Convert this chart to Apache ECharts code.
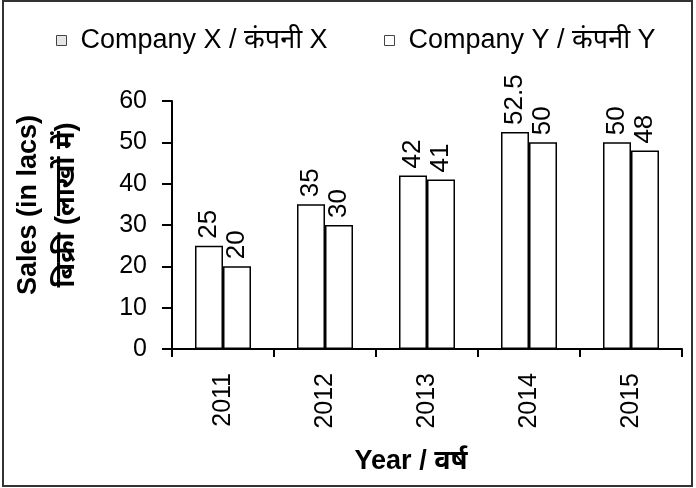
<!DOCTYPE html>
<html>
<head>
<meta charset="utf-8">
<script src="https://cdn.jsdelivr.net/npm/echarts@6/dist/echarts.min.js"></script>
<style>
  html, body { margin: 0; padding: 0; background: #fff; }
  #chart { width: 696px; height: 488px; }
</style>
</head>
<body>
<div id="chart"></div>
<script>
// Annual sales of two companies (in lacs)
const years = ['2011', '2012', '2013', '2014', '2015'];
const companyX = [25, 35, 42, 52.5, 50];
const companyY = [20, 30, 41, 50, 48];
const seriesNames = ['Company X / कंपनी X', 'Company Y / कंपनी Y'];
const yTicks = { min: 0, max: 60, interval: 10 };

const FONT = '"Liberation Sans", Arial, "Noto Sans", sans-serif';

const chart = echarts.init(document.getElementById('chart'), null, { renderer: 'canvas' });

const barLabel = {
  show: true,
  position: 'top',
  rotate: 90,
  align: 'left',
  verticalAlign: 'middle',
  distance: 7,
  color: '#000',
  fontSize: 26,
  fontFamily: FONT
};

// one legend block per series so each entry sits at its own spot
const legendBase = {
  top: 22,
  itemWidth: 10,
  itemHeight: 10,
  textStyle: { fontSize: 27, color: '#000', fontFamily: FONT, padding: [0, 0, 0, 9] }
};

chart.setOption({
  backgroundColor: '#fff',
  animation: false,
  textStyle: { fontFamily: FONT, color: '#000' },
  graphic: [{
    type: 'rect',
    shape: { x: 3, y: 1, width: 689, height: 485 },
    style: { fill: 'none', stroke: '#333', lineWidth: 2 },
    z: 100
  }],
  legend: [
    Object.assign({}, legendBase, {
      left: 51,
      data: [{ name: seriesNames[0], icon: 'rect', itemStyle: { color: '#e6e6e6', borderColor: '#444', borderWidth: 1 } }]
    }),
    Object.assign({}, legendBase, {
      left: 379,
      data: [{ name: seriesNames[1], icon: 'rect', itemStyle: { color: '#fff', borderColor: '#444', borderWidth: 1 } }]
    })
  ],
  grid: { left: 172, right: 14, top: 101, bottom: 139, containLabel: false },
  xAxis: {
    type: 'category',
    data: years,
    name: 'Year / वर्ष',
    nameLocation: 'middle',
    nameGap: 99,
    nameTextStyle: { fontSize: 27, fontWeight: 'bold', color: '#000', fontFamily: FONT, padding: [0, 32, 0, 0] },
    axisLine: { show: true, lineStyle: { color: '#000', width: 2 } },
    axisTick: { show: true, alignWithLabel: false, length: 8, lineStyle: { color: '#000', width: 2 } },
    axisLabel: { rotate: 90, margin: 24, fontSize: 25, color: '#000', fontFamily: FONT, interval: 0 },
    splitLine: { show: false }
  },
  yAxis: {
    type: 'value',
    min: yTicks.min,
    max: yTicks.max,
    interval: yTicks.interval,
    name: 'Sales (in lacs)\nबिक्री (लाखों में)',
    nameLocation: 'middle',
    nameRotate: 90,
    nameGap: 86,
    nameTextStyle: { fontSize: 27, fontWeight: 'bold', color: '#000', fontFamily: FONT, lineHeight: 38, padding: [0, 0, 0, 40] },
    axisLine: { show: true, lineStyle: { color: '#000', width: 2 } },
    axisTick: { show: true, length: 10, lineStyle: { color: '#000', width: 2 } },
    axisLabel: { margin: 25, fontSize: 25, color: '#000', fontFamily: FONT },
    splitLine: { show: false }
  },
  series: [
    {
      name: seriesNames[0],
      type: 'bar',
      data: companyX,
      barWidth: 28,
      barGap: '0%',
      itemStyle: { color: '#fff', borderColor: '#000', borderWidth: 1.5 },
      label: barLabel
    },
    {
      name: seriesNames[1],
      type: 'bar',
      data: companyY,
      barWidth: 28,
      itemStyle: { color: '#fff', borderColor: '#000', borderWidth: 1.5 },
      label: barLabel
    }
  ]
});
</script>
</body>
</html>
